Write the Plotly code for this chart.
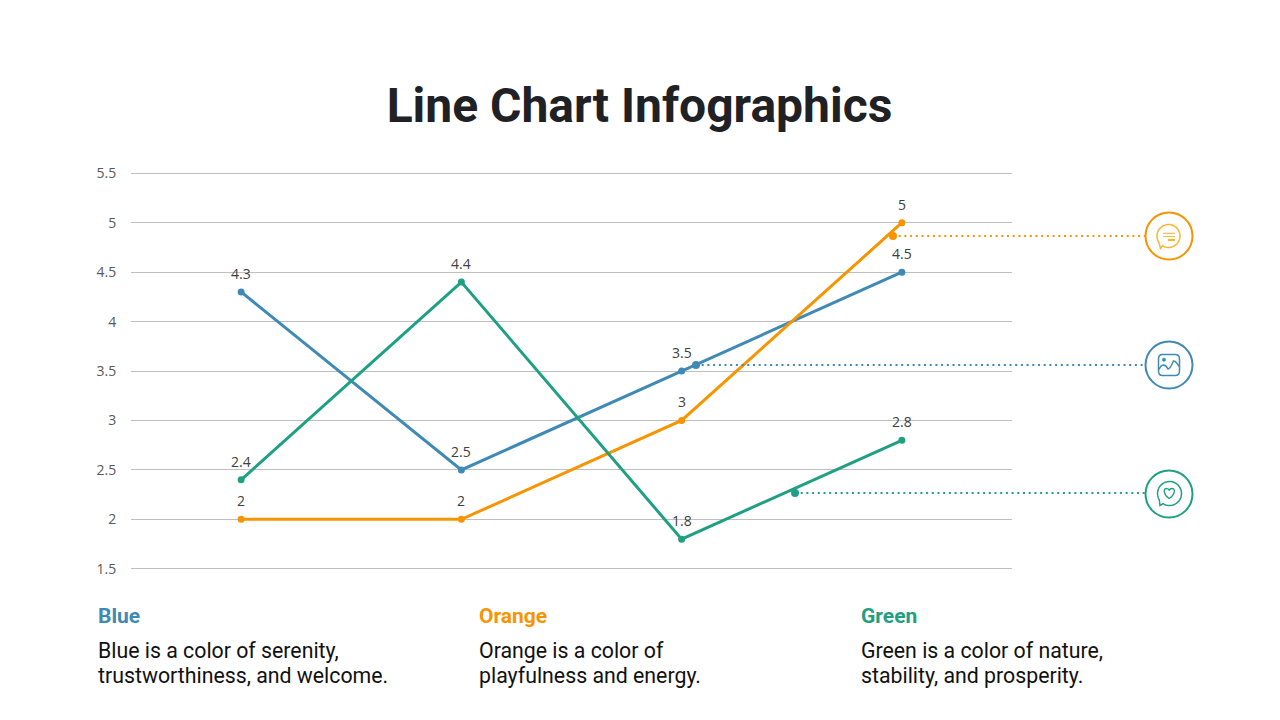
import numpy as np
import plotly.graph_objects as go

# chart values
steps = [0, 1, 2, 3]
blue = [4.3, 2.5, 3.5, 4.5]
orange = [2, 2, 3, 5]
green = [2.4, 4.4, 1.8, 2.8]
y_ticks = [1.5, 2, 2.5, 3, 3.5, 4, 4.5, 5, 5.5]
y_labels = ['1.5', '2', '2.5', '3', '3.5', '4', '4.5', '5', '5.5']

# colours
BLUE = '#3f8ab4'
ORANGE = '#f79400'
GREEN = '#1fa083'
ICON_ORANGE = '#f9b62e'

# captions below the chart
names = ['Blue', 'Orange', 'Green']
name_colors = [BLUE, ORANGE, GREEN]
line1 = ['Blue is a color of serenity,', 'Orange is a color of', 'Green is a color of nature,']
line2 = ['trustworthiness, and welcome.', 'playfulness and energy.', 'stability, and prosperity.']
caption_x = [98, 479, 861]

# dotted callouts: start of the dots, end of the dots, colour
callout_x = [893, 696, 795]
callout_y = [236, 365, 493]
callout_colors = [ORANGE, BLUE, GREEN]
icon_x = 1169
icon_y = [236, 365, 494]


def bubble(cx, cy, r, tx, ty):
    # speech bubble outline, round with a small tail at lower left
    a = np.radians(np.linspace(148, 122 + 360, 48))
    pts = [(cx + r * np.cos(-t), cy - r * np.sin(-t)) for t in a]
    path = 'M ' + ' L '.join(f'{x:.2f},{y:.2f}' for x, y in pts)
    return path + f' L {tx},{ty} Z'


fig = go.Figure()

annotations = []
for vals, clr in [(blue, BLUE), (orange, ORANGE), (green, GREEN)]:
    fig.add_trace(go.Scatter(
        x=steps, y=vals,
        mode='lines+markers',
        line=dict(color=clr, width=3),
        marker=dict(color=clr, size=7),
        showlegend=False,
        hoverinfo='skip',
    ))
    # value labels sit further above the point than textposition puts them
    for xv, yv in zip(steps, vals):
        annotations.append(dict(x=xv, y=yv, text=str(yv), showarrow=False,
                                yanchor='middle', yshift=18.5,
                                font=dict(family='Open Sans', size=14, color='#404040')))

# big dots where the callouts leave the lines, on a full page pixel axis
fig.add_trace(go.Scatter(
    x=callout_x, y=callout_y, xaxis='x2', yaxis='y2',
    mode='markers',
    marker=dict(color=callout_colors, size=8),
    showlegend=False,
    hoverinfo='skip',
))

shapes = []
for i in range(3):
    shapes.append(dict(type='line', xref='x2', yref='y2', layer='below',
                       x0=callout_x[i], x1=1145, y0=callout_y[i], y1=callout_y[i],
                       line=dict(color=callout_colors[i], width=2, dash='2px,3.7px')))
    shapes.append(dict(type='circle', xref='x2', yref='y2',
                       x0=icon_x - 23.5, x1=icon_x + 23.5,
                       y0=icon_y[i] - 23.5, y1=icon_y[i] + 23.5,
                       fillcolor='white',
                       line=dict(color=callout_colors[i], width=2)))

# orange chat icon
shapes.append(dict(type='path', xref='x2', yref='y2',
                   path=bubble(1168.5, 236, 11.5, 1160.5, 248.5),
                   line=dict(color=ICON_ORANGE, width=1.5)))
for x0, x1, y, w in [(1163, 1175, 233.3, 1), (1163, 1175, 236.5, 1), (1168, 1175, 240, 2)]:
    shapes.append(dict(type='line', xref='x2', yref='y2', x0=x0, x1=x1, y0=y, y1=y,
                       line=dict(color=ICON_ORANGE, width=w)))

# blue picture icon
shapes.append(dict(type='path', xref='x2', yref='y2',
                   path='M 1162.5,354.5 L 1175,354.5 Q 1179.5,354.5 1179.5,359 L 1179.5,371 '
                        'Q 1179.5,375.5 1175,375.5 L 1162.5,375.5 Q 1158.5,375.5 1158.5,371 '
                        'L 1158.5,359 Q 1158.5,354.5 1162.5,354.5 Z',
                   line=dict(color=BLUE, width=1.5)))
shapes.append(dict(type='path', xref='x2', yref='y2',
                   path='M 1159,369.5 Q 1161,365 1163.5,365 Q 1166,365 1168,369 '
                        'Q 1170,369 1173.5,361 Q 1176,361 1179,366.5',
                   line=dict(color=BLUE, width=1.5)))
shapes.append(dict(type='circle', xref='x2', yref='y2', x0=1162.3, x1=1165.7, y0=358, y1=361.4,
                   fillcolor=GREEN, line=dict(color=BLUE, width=0.5)))

# green heart icon
shapes.append(dict(type='path', xref='x2', yref='y2',
                   path=bubble(1169.5, 493.5, 12, 1160, 505.5),
                   line=dict(color=GREEN, width=1.5)))
shapes.append(dict(type='path', xref='x2', yref='y2',
                   path='M 1169.2,498.5 C 1163,494 1163,488.5 1166.5,488.5 C 1168,488.5 1169,489.5 1169.2,490.5 '
                        'C 1169.5,489.5 1170.5,488.5 1172,488.5 C 1175.5,488.5 1175.5,494 1169.2,498.5 Z',
                   line=dict(color=GREEN, width=1.3)))

for i in range(3):
    annotations.append(dict(xref='x2', yref='y2', x=caption_x[i], y=616, text=f'<b>{names[i]}</b>',
                            showarrow=False, xanchor='left', yanchor='middle', xshift=-2,
                            font=dict(family='Roboto', size=21, color=name_colors[i])))
    annotations.append(dict(xref='x2', yref='y2', x=caption_x[i], y=650, text=line1[i],
                            showarrow=False, xanchor='left', yanchor='middle', xshift=-2,
                            font=dict(family='Roboto', size=21.3, color='#111111')))
    annotations.append(dict(xref='x2', yref='y2', x=caption_x[i], y=675, text=line2[i],
                            showarrow=False, xanchor='left', yanchor='middle', xshift=-2,
                            font=dict(family='Roboto', size=21.3, color='#111111')))

fig.update_layout(
    width=1280, height=720,
    margin=dict(l=0, r=0, t=0, b=0, autoexpand=False),
    paper_bgcolor='white', plot_bgcolor='rgba(0,0,0,0)',
    title=dict(text='<b>Line Chart Infographics</b>', x=639.5 / 1280, xanchor='center',
               xref='paper', y=1 - 105 / 720, yanchor='middle',
               font=dict(family='Roboto', size=48, color='#202124')),
    xaxis=dict(domain=[131 / 1280, 1012 / 1280], range=[-0.5, 3.5],
               showgrid=False, zeroline=False, showticklabels=False, ticks=''),
    # range runs a little past 1.5 and 5.5 so the end gridlines get drawn
    yaxis=dict(domain=[1 - 573.74 / 720, 1 - 168.36 / 720], range=[1.45, 5.55],
               tickvals=y_ticks, ticktext=y_labels,
               tickfont=dict(family='Open Sans', size=14, color='#595959'),
               ticklen=11, ticks='outside', tickcolor='rgba(0,0,0,0)',
               gridcolor='#bfbfbf', gridwidth=1, zeroline=False, showline=False),
    xaxis2=dict(domain=[0, 1], range=[0, 1280], visible=False, anchor='y2'),
    yaxis2=dict(domain=[0, 1], range=[720, 0], visible=False, anchor='x2'),
    shapes=shapes,
    annotations=annotations,
)

fig.write_html("out.html", config=dict(displayModeBar=False),
               post_script="document.body.style.margin='0';")
